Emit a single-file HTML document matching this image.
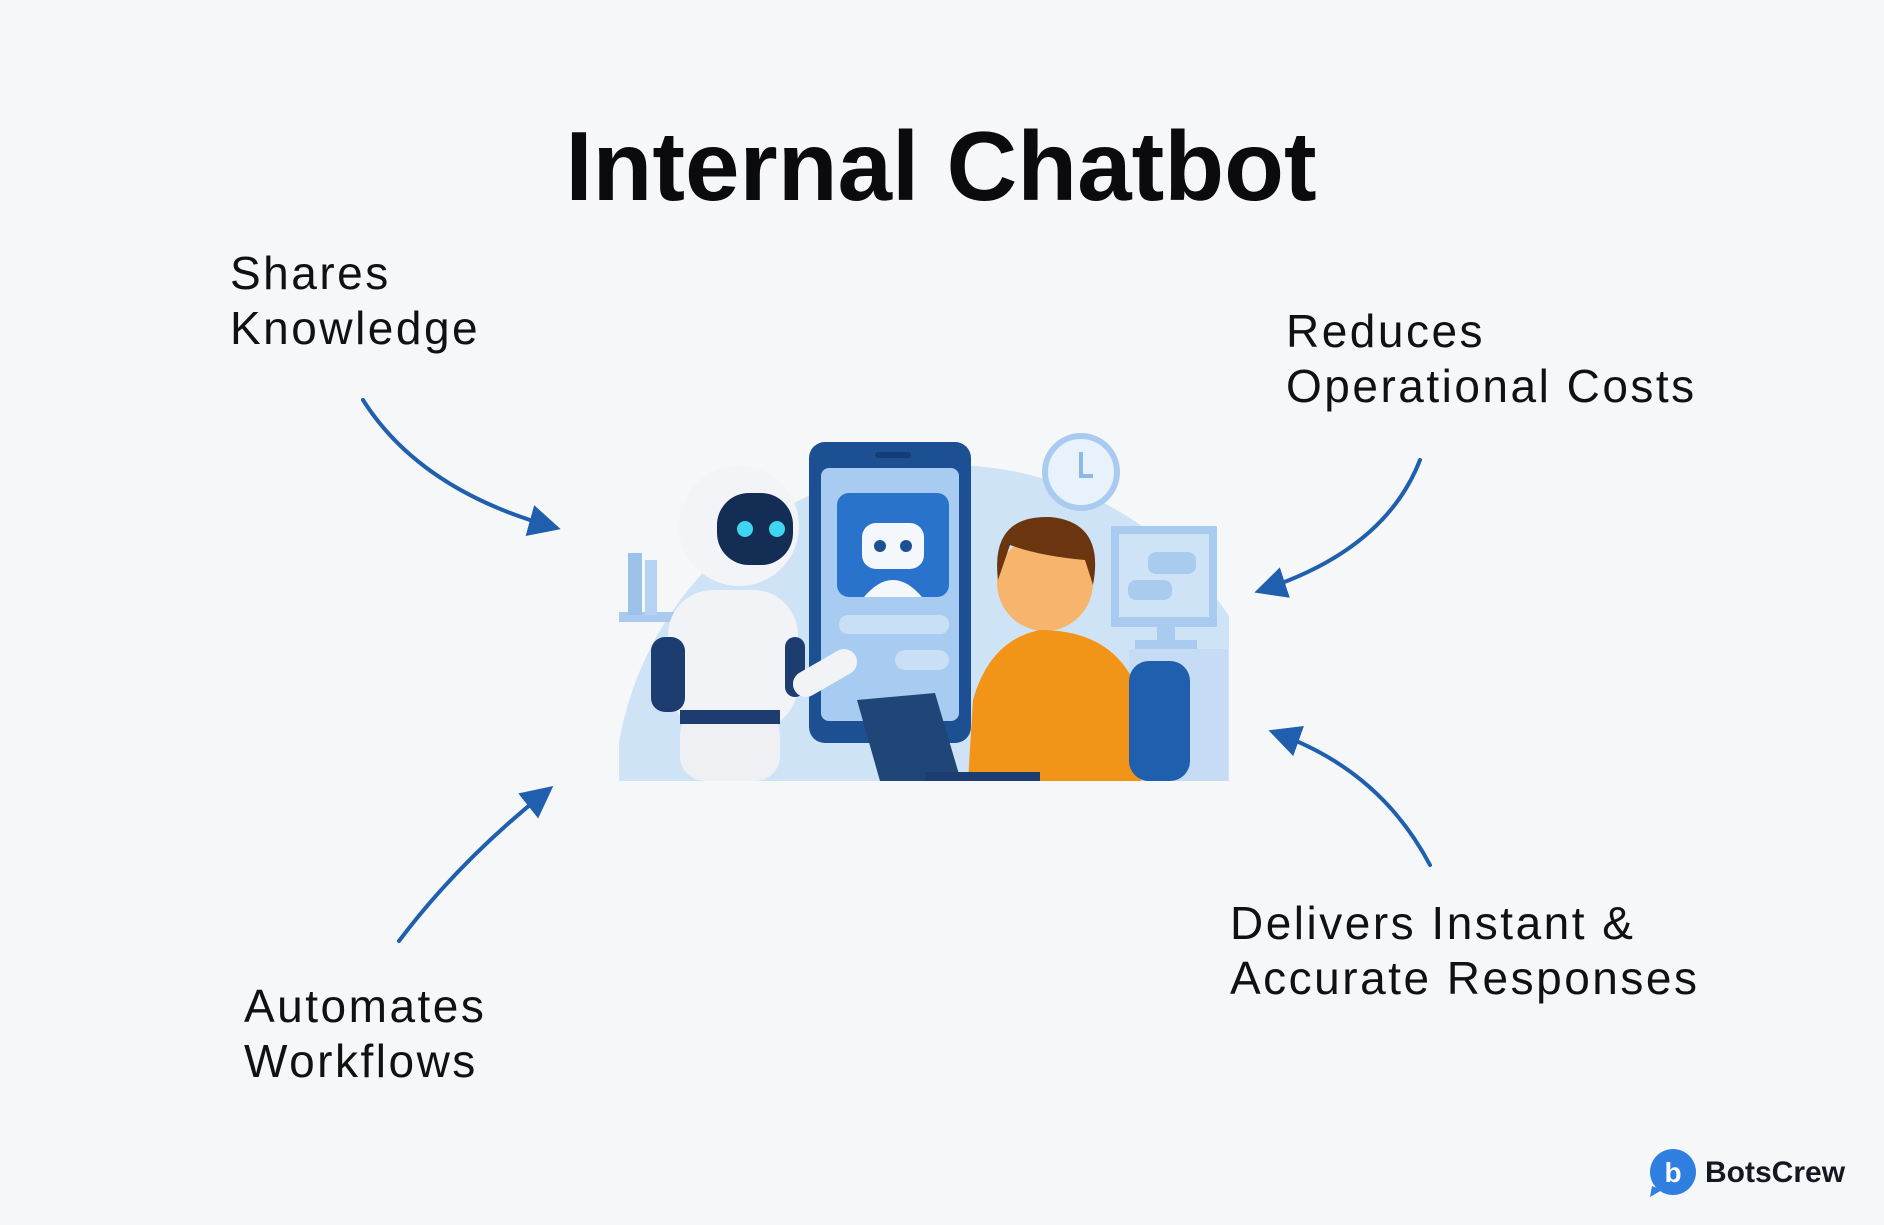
<!DOCTYPE html>
<html><head><meta charset="utf-8"><style>
html,body{margin:0;padding:0;background:#f5f7f9;}
svg{display:block}
text{font-family:"Liberation Sans",sans-serif;}
</style></head><body>
<svg width="1884" height="1225" viewBox="0 0 1884 1225" xmlns="http://www.w3.org/2000/svg">
<rect width="1884" height="1225" fill="#f5f7f9"/>
<text x="941" y="200" text-anchor="middle" font-size="98" font-weight="bold" fill="#0b0b0f">Internal Chatbot</text>
<g font-size="46" fill="#111" letter-spacing="2.5">
<text x="230" y="289">Shares</text><text x="230" y="344">Knowledge</text>
<text x="1286" y="347">Reduces</text><text x="1286" y="402">Operational Costs</text>
<text x="1230" y="939">Delivers Instant &amp;</text><text x="1230" y="994">Accurate Responses</text>
<text x="244" y="1022">Automates</text><text x="244" y="1077">Workflows</text>
</g>
<defs><marker id="a" markerWidth="8" markerHeight="8" refX="6" refY="4" orient="auto" markerUnits="strokeWidth"><path d="M0,0 L8,4 L0,8 Z" fill="#1f5fae"/></marker></defs>
<g stroke="#1f5fae" stroke-width="4" fill="none" stroke-linecap="round">
<path d="M363,400 Q420,490 553,527" marker-end="url(#a)"/>
<path d="M1420,460 Q1385,550 1262,590" marker-end="url(#a)"/>
<path d="M1430,865 Q1380,770 1276,733" marker-end="url(#a)"/>
<path d="M399,941 Q460,860 547,791" marker-end="url(#a)"/>
</g>
<clipPath id="c"><rect x="619" y="430" width="610" height="351"/></clipPath>
<g clip-path="url(#c)">
<circle cx="949" cy="800" r="335" fill="#cfe3f7"/>
<rect x="1129" y="649" width="99" height="132" fill="#c5dcf4"/>
<rect x="615" y="612" width="60" height="10" fill="#a9cbef"/>
<rect x="628" y="553" width="14" height="62" fill="#9cc2ec"/>
<rect x="645" y="560" width="12" height="55" fill="#b5d2f1"/>
<circle cx="1081" cy="472" r="36" fill="#e8f2fc" stroke="#a9cbef" stroke-width="6"/>
<path d="M1081,452 V476 H1093" stroke="#8db8e8" stroke-width="4" fill="none"/>
<rect x="1111" y="526" width="106" height="101" fill="#a9cbef"/>
<rect x="1119" y="534" width="90" height="83" fill="#cfe3f7"/>
<rect x="1148" y="552" width="48" height="22" rx="8" fill="#a9cbef"/>
<rect x="1128" y="580" width="44" height="20" rx="8" fill="#a9cbef"/>
<rect x="1157" y="627" width="18" height="16" fill="#a9cbef"/>
<rect x="1135" y="640" width="62" height="9" fill="#a9cbef"/>
<rect x="809" y="442" width="162" height="301" rx="16" fill="#1d4f93"/>
<rect x="821" y="468" width="138" height="253" rx="8" fill="#a8cbf1"/>
<rect x="875" y="452" width="36" height="6" rx="3" fill="#153d75"/>
<rect x="837" y="493" width="112" height="104" rx="12" fill="#2a73cc"/>
<rect x="862" y="523" width="62" height="46" rx="14" fill="#f4f7fb"/>
<path d="M864,597 Q893,563 922,597Z" fill="#f4f7fb"/>
<circle cx="880" cy="546" r="6" fill="#1d4f93"/><circle cx="906" cy="546" r="6" fill="#1d4f93"/>
<rect x="839" y="615" width="110" height="19" rx="9" fill="#c8dff6"/>
<rect x="895" y="650" width="54" height="20" rx="10" fill="#c8dff6"/>
<rect x="668" y="590" width="130" height="140" rx="45" fill="#f1f3f6"/>
<rect x="651" y="637" width="34" height="75" rx="14" fill="#1d3d70"/>
<rect x="785" y="637" width="20" height="60" rx="10" fill="#1d3d70"/>
<rect x="680" y="710" width="100" height="71" rx="25" fill="#eef0f3"/>
<rect x="680" y="710" width="100" height="14" fill="#1d3d70"/>
<rect x="790" y="660" width="70" height="26" rx="13" fill="#f1f3f6" transform="rotate(-30 825 673)"/>
<circle cx="739" cy="526" r="60" fill="#f2f4f7"/>
<rect x="717" y="493" width="76" height="72" rx="32" fill="#142d55"/>
<circle cx="745" cy="529" r="8" fill="#3fd4ef"/><circle cx="777" cy="529" r="8" fill="#3fd4ef"/>
<circle cx="1045" cy="583" r="48" fill="#f6b46c"/>
<path d="M998,580 Q990,515 1050,517 Q1105,522 1093,585 L1085,560 Q1040,556 1010,545 Z" fill="#6b3510"/>
<path d="M973,700 Q990,640 1040,630 Q1120,630 1141,700 L1141,781 H968 Z" fill="#f29418"/>
<rect x="1129" y="661" width="61" height="120" rx="20" fill="#1f5fae"/>
<path d="M857,700 L935,693 L961,781 H880 Z" fill="#1f4677"/>
<rect x="925" y="772" width="115" height="9" fill="#1d3d70"/>
</g>
<circle cx="1673" cy="1172" r="23" fill="#2f7fe0"/>
<path d="M1652,1186 L1650,1197 L1662,1190 Z" fill="#2f7fe0"/>
<text x="1673" y="1182" text-anchor="middle" font-size="28" font-weight="bold" fill="#fff">b</text>
<text x="1705" y="1182" font-size="30" font-weight="bold" fill="#141820">BotsCrew</text>
</svg>
</body></html>
